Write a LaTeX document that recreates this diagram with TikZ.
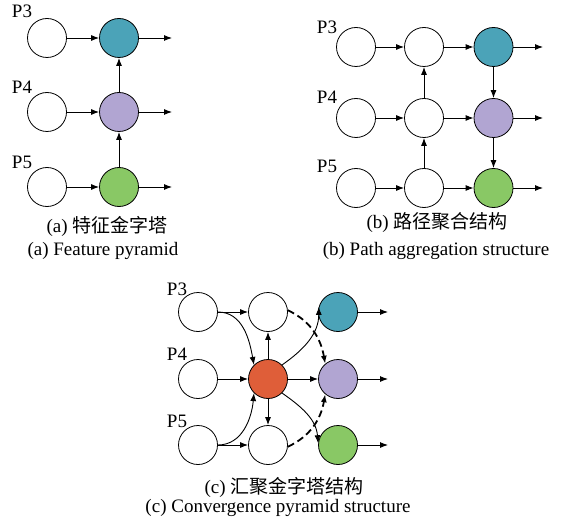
\documentclass[tikz,border=0pt]{standalone}
\usepackage{fontspec}
\setmainfont{Liberation Serif}
\newfontfamily\cjk{Noto Sans CJK SC}
\usetikzlibrary{arrows.meta}
\definecolor{cteal}{RGB}{75,163,184}
\definecolor{cpurp}{RGB}{177,165,210}
\definecolor{cgreen}{RGB}{137,200,101}
\definecolor{cred}{RGB}{223,94,57}
\tikzset{
  nd/.style={circle, draw=black, line width=0.8pt, minimum size=39pt, inner sep=0pt, fill=white},
  arr/.style={-{Latex[length=8pt,width=6pt]}, line width=0.9pt},
  dsh/.style={-{Latex[length=8pt,width=6pt]}, line width=1.8pt, dash pattern=on 7pt off 4pt},
  lbl/.style={inner sep=0pt, font=\fontsize{19}{22}\selectfont},
  captxt/.style={inner sep=0pt, font=\fontsize{19}{22}\selectfont},
}
\begin{document}
\begin{tikzpicture}[x=1pt,y=-1pt]
\useasboundingbox (0,0) rectangle (561,521);
% ---------- (a)
\node[nd] (a1l) at (47,38) {};
\node[nd] (a2l) at (47,112) {};
\node[nd] (a3l) at (47,187) {};
\node[nd, fill=cteal] (a1r) at (119,38) {};
\node[nd, fill=cpurp] (a2r) at (119,112) {};
\node[nd, fill=cgreen] (a3r) at (119,187) {};
\coordinate (a1o) at (172,38);
\coordinate (a2o) at (172,112);
\coordinate (a3o) at (172,187);
\draw[arr] (a1l) -- (a1r);
\draw[arr] (a2l) -- (a2r);
\draw[arr] (a3l) -- (a3r);
\draw[arr] (a3r) -- (a2r);
\draw[arr] (a2r) -- (a1r);
\draw[arr] (a1r) -- (a1o);
\draw[arr] (a2r) -- (a2o);
\draw[arr] (a3r) -- (a3o);
\node[lbl] (ap3) at (22,11) {P3};
\node[lbl] (ap4) at (22,87) {P4};
\node[lbl] (ap5) at (22,162) {P5};
\node[captxt] (acz) at (107,226) {(a) {\cjk 特征金字塔}};
\node[captxt] (acen) at (103,251) {(a) Feature pyramid};
% ---------- (b)
\node[nd] (b1l) at (356,47) {};
\node[nd] (b2l) at (356,118) {};
\node[nd] (b3l) at (356,188) {};
\node[nd] (b1m) at (424,47) {};
\node[nd] (b2m) at (424,118) {};
\node[nd] (b3m) at (424,188) {};
\node[nd, fill=cteal] (b1r) at (493.5,47) {};
\node[nd, fill=cpurp] (b2r) at (493.5,118) {};
\node[nd, fill=cgreen] (b3r) at (493.5,188) {};
\coordinate (b1o) at (543,47);
\coordinate (b2o) at (543,118);
\coordinate (b3o) at (543,188);
\draw[arr] (b1l) -- (b1m);
\draw[arr] (b2l) -- (b2m);
\draw[arr] (b3l) -- (b3m);
\draw[arr] (b1m) -- (b1r);
\draw[arr] (b2m) -- (b2r);
\draw[arr] (b3m) -- (b3r);
\draw[arr] (b3m) -- (b2m);
\draw[arr] (b2m) -- (b1m);
\draw[arr] (b1r) -- (b2r);
\draw[arr] (b2r) -- (b3r);
\draw[arr] (b1r) -- (b1o);
\draw[arr] (b2r) -- (b2o);
\draw[arr] (b3r) -- (b3o);
\node[lbl] (bp3) at (327,27) {P3};
\node[lbl] (bp4) at (327,97) {P4};
\node[lbl] (bp5) at (327,166) {P5};
\node[captxt] (bcz) at (437,223) {(b) {\cjk 路径聚合结构}};
\node[captxt] (ben) at (436,251) {(b) Path aggregation structure};
% ---------- (c)
\node[nd] (c1l) at (198,312) {};
\node[nd] (c2l) at (198,379) {};
\node[nd] (c3l) at (198,445) {};
\node[nd] (c1m) at (268,312) {};
\node[nd, fill=cred] (cr) at (268,379) {};
\node[nd] (c3m) at (268,445) {};
\node[nd, fill=cteal] (c1r) at (338,312) {};
\node[nd, fill=cpurp] (c2r) at (338,379) {};
\node[nd, fill=cgreen] (c3r) at (338,445) {};
\coordinate (c1o) at (388,312);
\coordinate (c2o) at (388,379);
\coordinate (c3o) at (388,445);
\draw[arr] (c1l) -- (c1m);
\draw[arr] (c2l) -- (cr);
\draw[arr] (c3l) -- (c3m);
\draw[arr] (cr) -- (c1m);
\draw[arr] (cr) -- (c3m);
\draw[arr] (cr) -- (c2r);
\draw[arr] (c1l.east) to[out=0,in=100] (cr.135);
\draw[arr] (c3l.east) to[out=0,in=-95] (cr.225);
\draw[arr] (cr.45) to[out=35,in=-90] (c1r.165);
\draw[arr] (cr.-45) to[out=-35,in=95] (c3r.175);
\draw[dsh] (c1m.5) to[out=-25,in=100] (c2r.130);
\draw[dsh] (c3m.-5) to[out=25,in=-100] (c2r.230);
\draw[arr] (c1r) -- (c1o);
\draw[arr] (c2r) -- (c2o);
\draw[arr] (c3r) -- (c3o);
\node[lbl] (cp3) at (177,289) {P3};
\node[lbl] (cp4) at (177,354) {P4};
\node[lbl] (cp5) at (177,421) {P5};
\node[captxt] (ccz) at (284,487) {(c) {\cjk 汇聚金字塔结构}};
\node[captxt] (cen) at (278,508) {(c) Convergence pyramid structure};
\end{tikzpicture}
\end{document}
